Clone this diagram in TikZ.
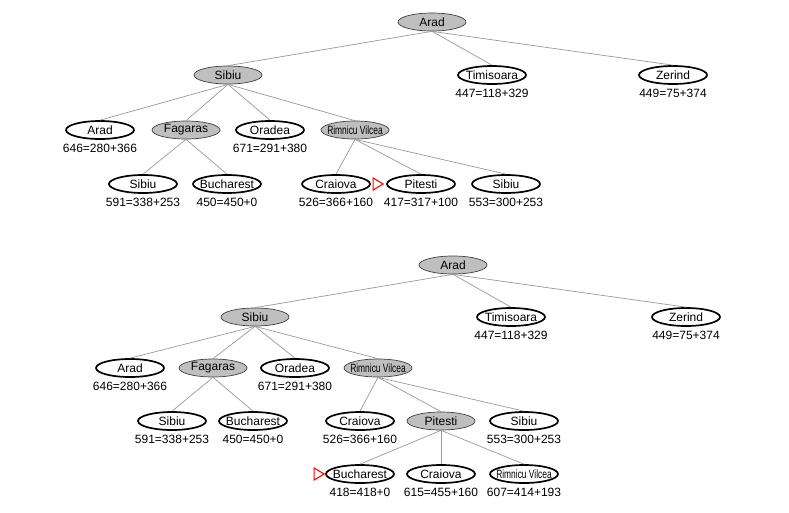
\documentclass[tikz,border=0pt]{standalone}
\usepackage{fontspec}
\setmainfont{Liberation Sans}
\usepackage{graphicx}
\usetikzlibrary{shapes.geometric}
\tikzset{
  base/.style={ellipse, minimum width=68pt, minimum height=18pt, inner sep=0pt,
    font=\fontsize{12}{14}\selectfont},
  opennode/.style={base, draw=black, line width=1.7pt, fill=white},
  closednode/.style={base, draw=black!75, line width=0.7pt, fill=gray!50},
  lbl/.style={inner sep=0pt, font=\fontsize{12}{14}\selectfont},
  treeedge/.style={draw=gray!80, line width=0.7pt},
  marker/.style={draw=red, line width=1.1pt}
}
\newcommand{\tx}[1]{\makebox[0pt]{#1}}
\newcommand{\rv}{\makebox[0pt]{\scalebox{0.7}[1]{Rimnicu Vilcea}}}
\begin{document}
\begin{tikzpicture}[x=1pt,y=-1pt]
\useasboundingbox (0,0) rectangle (789,512);
% ---------- top tree ----------
\node[closednode] (A0) at (432,22) {\tx{Arad}};
\node[closednode] (S1) at (228,75) {\tx{Sibiu}};
\node[opennode] (T1) at (492,75) {\tx{Timisoara}};
\node[opennode] (Z1) at (673,75) {\tx{Zerind}};
\node[opennode] (A2) at (100,130) {\tx{Arad}};
\node[closednode] (F2) at (186,130) {\tx{Fagaras}};
\node[opennode] (O2) at (270,130) {\tx{Oradea}};
\node[closednode] (R2) at (355,130) {\rv};
\node[opennode] (S3) at (143,184) {\tx{Sibiu}};
\node[opennode] (B3) at (227,184) {\tx{Bucharest}};
\node[opennode] (C3) at (336,184) {\tx{Craiova}};
\node[opennode] (P3) at (421,184) {\tx{Pitesti}};
\node[opennode] (SB3) at (506,184) {\tx{Sibiu}};
\node[lbl] (T1l) at (492,93.5) {447=118+329};
\node[lbl] (Z1l) at (673,93.5) {449=75+374};
\node[lbl] (A2l) at (100,148.5) {646=280+366};
\node[lbl] (O2l) at (270,148.5) {671=291+380};
\node[lbl] (S3l) at (143,202.5) {591=338+253};
\node[lbl] (B3l) at (227,202.5) {450=450+0};
\node[lbl] (C3l) at (336,202.5) {526=366+160};
\node[lbl] (P3l) at (421,202.5) {417=317+100};
\node[lbl] (SB3l) at (506,202.5) {553=300+253};
\foreach \p/\c in {A0/S1,A0/T1,A0/Z1,S1/A2,S1/F2,S1/O2,S1/R2,F2/S3,F2/B3,R2/C3,R2/P3,R2/SB3}
  \draw[treeedge] (\p.south) -- (\c.north);
\coordinate (m1) at ([xshift=-3pt]P3.west);
\draw[marker] (m1) -- ++(-10,-6) -- ++(0,12) -- cycle;
% ---------- bottom tree ----------
\node[closednode] (a0) at (453,265) {\tx{Arad}};
\node[closednode] (s1) at (255,317) {\tx{Sibiu}};
\node[opennode] (t1) at (511,317) {\tx{Timisoara}};
\node[opennode] (z1) at (686,317) {\tx{Zerind}};
\node[opennode] (a2) at (130,368) {\tx{Arad}};
\node[closednode] (f2) at (213,368) {\tx{Fagaras}};
\node[opennode] (o2) at (295,368) {\tx{Oradea}};
\node[closednode] (r2) at (378,368) {\rv};
\node[opennode] (s3) at (172,421) {\tx{Sibiu}};
\node[opennode] (b3) at (253,421) {\tx{Bucharest}};
\node[opennode] (c3) at (360,421) {\tx{Craiova}};
\node[closednode] (p3) at (441,421) {\tx{Pitesti}};
\node[opennode] (sb3) at (524,421) {\tx{Sibiu}};
\node[opennode] (b4) at (360,474) {\tx{Bucharest}};
\node[opennode] (c4) at (441,474) {\tx{Craiova}};
\node[opennode] (r4) at (524,474) {\rv};
\node[lbl] (t1l) at (511,335.5) {447=118+329};
\node[lbl] (z1l) at (686,335.5) {449=75+374};
\node[lbl] (a2l) at (130,386.5) {646=280+366};
\node[lbl] (o2l) at (295,386.5) {671=291+380};
\node[lbl] (s3l) at (172,439.5) {591=338+253};
\node[lbl] (b3l) at (253,439.5) {450=450+0};
\node[lbl] (c3l) at (360,439.5) {526=366+160};
\node[lbl] (sb3l) at (524,439.5) {553=300+253};
\node[lbl] (b4l) at (360,492.5) {418=418+0};
\node[lbl] (c4l) at (441,492.5) {615=455+160};
\node[lbl] (r4l) at (524,492.5) {607=414+193};
\foreach \p/\c in {a0/s1,a0/t1,a0/z1,s1/a2,s1/f2,s1/o2,s1/r2,f2/s3,f2/b3,r2/c3,r2/p3,r2/sb3,p3/b4,p3/c4,p3/r4}
  \draw[treeedge] (\p.south) -- (\c.north);
\coordinate (m2) at ([xshift=-1pt]b4.west);
\draw[marker] (m2) -- ++(-10,-6) -- ++(0,12) -- cycle;
\end{tikzpicture}
\end{document}
